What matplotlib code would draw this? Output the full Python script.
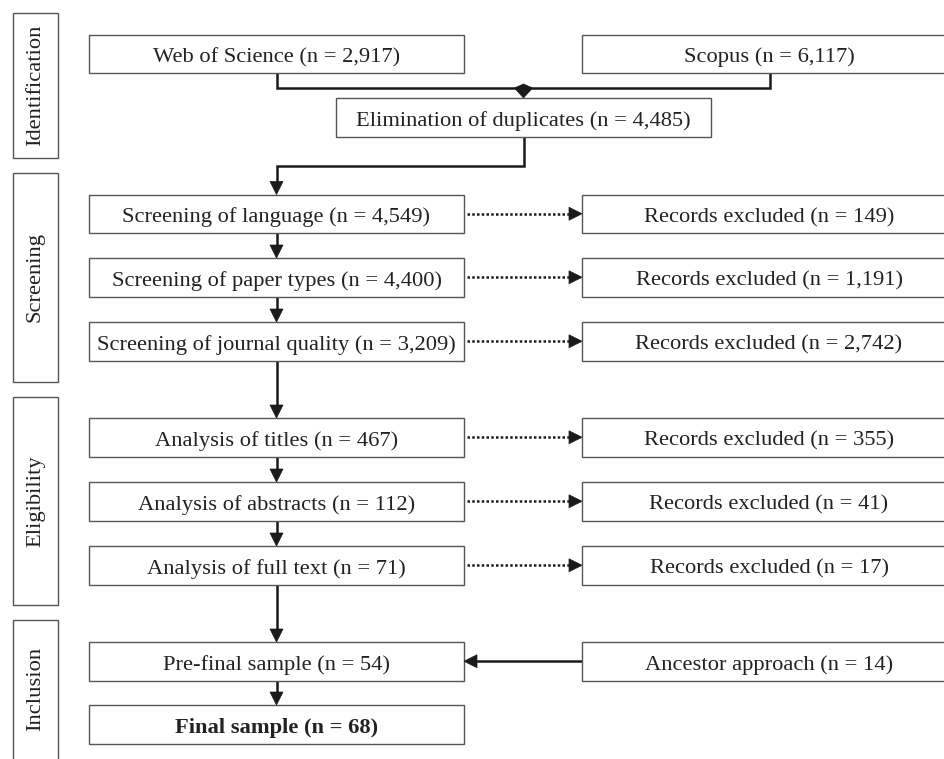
import matplotlib
matplotlib.use("Agg")
import matplotlib.pyplot as plt
from matplotlib.patches import Rectangle, Polygon

# data
phases = ["Identification", "Screening", "Eligibility", "Inclusion"]
sources = ["Web of Science", "Scopus"]
source_n = [2917, 6117]
dup_label = "Elimination of duplicates"
dup_n = 4485
stages = ["Screening of language", "Screening of paper types",
          "Screening of journal quality", "Analysis of titles",
          "Analysis of abstracts", "Analysis of full text",
          "Pre-final sample", "Final sample"]
stage_n = [4549, 4400, 3209, 467, 112, 71, 54, 68]
excluded_label = "Records excluded"
excluded_n = [149, 1191, 2742, 355, 41, 17]
ancestor_label = "Ancestor approach"
ancestor_n = 14

# layout (pixels, y downward)
W, H = 945, 759
BOX_H = 38.5
LEFT = (89, 464)
RIGHT = (582, 956)
stage_tops = [194.5, 258, 322, 418, 482, 546, 642, 705]
phase_spans = [(13, 158), (173, 382), (397, 605), (620, 770)]
LINE = "#1a1a1a"
EDGE = "#555555"
FONT = ["Liberation Serif", "DejaVu Serif"]
FS = 16.2

fig = plt.figure(figsize=(W / 100, H / 100), dpi=100)
ax = fig.add_axes([0, 0, 1, 1])
ax.set_xlim(0, W)
ax.set_ylim(H, 0)
ax.axis("off")


def box(x0, x1, top, text, bold=False):
    ax.add_patch(Rectangle((x0, top), x1 - x0, BOX_H, facecolor="white",
                           edgecolor=EDGE, lw=1.0, zorder=2))
    ax.text((x0 + x1) / 2, top + BOX_H / 2 + 8.5, text, ha="center", va="baseline",
            fontsize=FS, family=FONT, color="#222222",
            fontweight="bold" if bold else "normal", zorder=3)


def head(x, y, d, size=13):
    # arrow tip at (x, y), pointing in direction d
    h = size / 2
    if d == "down":
        pts = [(x, y), (x - h, y - size), (x + h, y - size)]
    elif d == "right":
        pts = [(x, y), (x - size, y - h), (x - size, y + h)]
    else:
        pts = [(x, y), (x + size, y - h), (x + size, y + h)]
    ax.add_patch(Polygon(pts, closed=True, facecolor=LINE, edgecolor=LINE,
                         lw=0.5, zorder=4))


def seg(xs, ys, ls="-"):
    ax.plot(xs, ys, color=LINE, lw=1.8, ls=ls, solid_capstyle="butt",
            solid_joinstyle="miter", zorder=1)


# phase boxes
for name, (t, b) in zip(phases, phase_spans):
    ax.add_patch(Rectangle((13, t), 45, b - t, facecolor="white",
                           edgecolor=EDGE, lw=1.0, zorder=2))
    ax.text(35.5, (t + min(b, 758)) / 2, name,
            rotation=90, ha="center", va="center", fontsize=FS, family=FONT,
            color="#222222", zorder=3)

# identification
src_top = 34.5
box(*LEFT, src_top, f"{sources[0]} (n = {source_n[0]:,})")
box(*RIGHT, src_top, f"{sources[1]} (n = {source_n[1]:,})")
dup_x = (336, 711)
dup_top = 98
box(*dup_x, dup_top, f"{dup_label} (n = {dup_n:,})")

lc = sum(LEFT) / 2
jx = 770
mid = sum(dup_x) / 2
seg([lc, lc, jx, jx], [src_top + BOX_H, 88, 88, src_top + BOX_H])
ax.add_patch(Polygon([(mid - 9, 88), (mid, 84), (mid + 9, 88), (mid, dup_top)],
                     closed=True, facecolor=LINE, edgecolor=LINE, lw=0.5, zorder=4))
seg([mid, mid, lc, lc], [dup_top + BOX_H, 166, 166, stage_tops[0] - 12])
head(lc, stage_tops[0], "down")

# stages
for i, (name, n) in enumerate(zip(stages, stage_n)):
    box(*LEFT, stage_tops[i], f"{name} (n = {n:,})", bold=(i == len(stages) - 1))
    if i > 0:
        seg([lc, lc], [stage_tops[i - 1] + BOX_H, stage_tops[i] - 12])
        head(lc, stage_tops[i], "down")

# exclusions
for i, n in enumerate(excluded_n):
    box(*RIGHT, stage_tops[i], f"{excluded_label} (n = {n:,})")
    y = stage_tops[i] + BOX_H / 2
    seg([LEFT[1] + 3, RIGHT[0] - 12], [y, y], ls=(0, (1, 0.9)))
    head(RIGHT[0], y, "right")

# ancestor approach
box(*RIGHT, stage_tops[6], f"{ancestor_label} (n = {ancestor_n})")
y = stage_tops[6] + BOX_H / 2
seg([RIGHT[0], LEFT[1] + 12], [y, y])
head(LEFT[1], y, "left")

fig.savefig("out.png", dpi=100, facecolor="white")
